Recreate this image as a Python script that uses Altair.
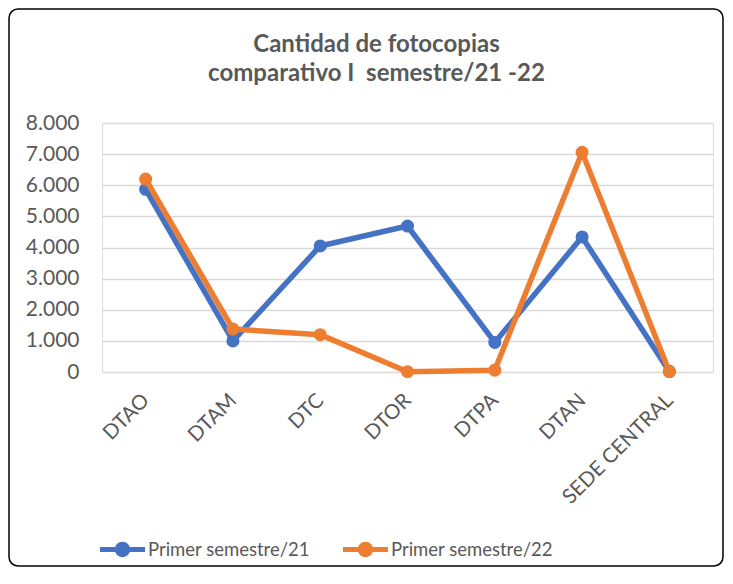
import altair as alt
import pandas as pd

categorias = ["DTAO", "DTAM", "DTC", "DTOR", "DTPA", "DTAN", "SEDE CENTRAL"]
serie_21 = [5870, 1000, 4050, 4690, 950, 4340, 20]
serie_22 = [6200, 1380, 1200, 10, 60, 7060, 10]
nombres = ["Primer semestre/21", "Primer semestre/22"]
colores = ["#4472C4", "#ED7D31"]
y_ticks = [0, 1000, 2000, 3000, 4000, 5000, 6000, 7000, 8000]
titulo = ["Cantidad de fotocopias", "comparativo I\u00a0 semestre/21 -22"]

rows = []
for c, v in zip(categorias, serie_21):
    rows.append({"cat": c, "valor": v, "serie": nombres[0]})
for c, v in zip(categorias, serie_22):
    rows.append({"cat": c, "valor": v, "serie": nombres[1]})
df = pd.DataFrame(rows)

FONT = "Lato"
GRAY = "#595959"

legend_path = ("M-1,-0.11 L1,-0.11 L1,0.11 L-1,0.11 Z "
               "M0.34,0 A0.34,0.34 0 1,1 -0.34,0 A0.34,0.34 0 1,1 0.34,0 Z")

x_enc = alt.X("cat:N", sort=categorias,
              scale=alt.Scale(type="point", padding=0.5),
              axis=alt.Axis(title=None, labelAngle=-45, labelAlign="right",
                            labelBaseline="middle", labelPadding=25,
                            labelFontSize=20.5, labelColor=GRAY, labelFont=FONT,
                            domain=False, ticks=False, grid=False))
y_enc = alt.Y("valor:Q", scale=alt.Scale(domain=[0, 8000]),
              axis=alt.Axis(title=None, values=y_ticks,
                            labelExpr="replace(format(datum.value, ','), ',', '.')",
                            labelFontSize=21, labelColor=GRAY, labelFont=FONT,
                            labelPadding=23, domain=False, ticks=False, tickSize=0,
                            grid=True, gridColor="#D9D9D9", gridWidth=1.5))
color_scale = alt.Scale(domain=nombres, range=colores)

base = alt.Chart(df)
layers = []
for i, n in enumerate(nombres):
    b = base.transform_filter(alt.datum.serie == n)
    line = b.mark_line(strokeWidth=5.5, strokeJoin="round", color=colores[i]).encode(
        x=x_enc, y=y_enc)
    pts = b.mark_circle(size=170, opacity=1).encode(
        x=x_enc, y=y_enc,
        color=alt.Color("serie:N", scale=color_scale,
                        legend=alt.Legend(title=None, orient="none",
                                          direction="horizontal",
                                          legendX=-2, legendY=404,
                                          symbolType=legend_path, symbolSize=2025,
                                          symbolStrokeWidth=0, labelOffset=3,
                                          columnPadding=33, labelLimit=0,
                                          labelFontSize=18.5, labelColor=GRAY,
                                          labelFont=FONT)))
    layers += [line, pts]

border = alt.Chart(pd.DataFrame({"a": [0]})).mark_rect(
    fill="transparent", stroke="black", strokeWidth=1.5, cornerRadius=9
).encode(x=alt.value(-93), x2=alt.value(621), y=alt.value(-114), y2=alt.value(443))

chart = alt.layer(border, *layers).properties(
    width=611, height=249,
    autosize=alt.AutoSizeParams(type="none"),
    padding={"left": 94, "top": 115, "right": 12, "bottom": 196},
    title=alt.TitleParams(text=titulo, anchor="middle", frame="group",
                          font=FONT, fontSize=24, fontWeight="bold",
                          color=GRAY, lineHeight=29, offset=0, dy=78, dx=-31),
).configure_view(stroke=None).configure(background="white")

chart.save("out.html", embed_options={"renderer": "svg", "actions": False})
